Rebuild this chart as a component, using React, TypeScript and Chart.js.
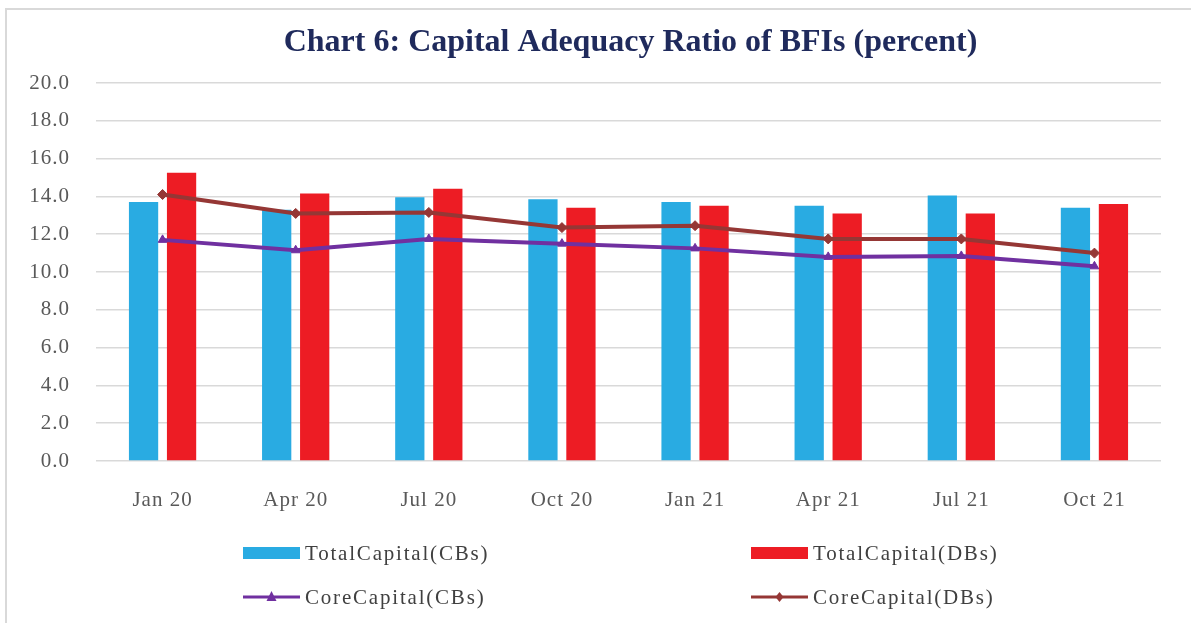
import React, { useEffect, useRef } from "react";
import { Chart, registerables } from "chart.js";

Chart.register(...registerables);

const categories = ["Jan 20", "Apr 20", "Jul 20", "Oct 20", "Jan 21", "Apr 21", "Jul 21", "Oct 21"];
const totalCapitalCBs = [13.7, 13.3, 13.95, 13.85, 13.7, 13.5, 14.05, 13.4];
const totalCapitalDBs = [15.25, 14.15, 14.4, 13.4, 13.5, 13.1, 13.1, 13.6];
const coreCapitalCBs = [11.7, 11.15, 11.75, 11.5, 11.25, 10.8, 10.85, 10.3];
const coreCapitalDBs = [14.1, 13.1, 13.15, 12.35, 12.45, 11.75, 11.75, 11.0];
const yTicks = [0, 2, 4, 6, 8, 10, 12, 14, 16, 18, 20];

const titleText = "Chart 6: Capital Adequacy Ratio of BFIs (percent)";
const legendLabels = ["TotalCapital(CBs)", "TotalCapital(DBs)", "CoreCapital(CBs)", "CoreCapital(DBs)"];

const BLUE = "#29ABE2";
const RED = "#ED1C24";
const PURPLE = "#7030A0";
const DARKRED = "#953735";
const FONT = "'Liberation Serif', 'Times New Roman', serif";

const customPlugin = {
  id: "custom",
  beforeDraw(chart: any) {
    const ctx = chart.ctx;
    ctx.save();
    ctx.fillStyle = "#fff";
    ctx.fillRect(0, 0, chart.width, chart.height);
    ctx.restore();
    (ctx as any).letterSpacing = "1px";
  },
  afterDraw(chart: any) {
    const ctx = chart.ctx;
    const area = chart.chartArea;
    // title
    ctx.save();
    (ctx as any).letterSpacing = "0px";
    ctx.font = `bold 32px ${FONT}`;
    ctx.fillStyle = "#1F2A5C";
    ctx.textAlign = "center";
    ctx.textBaseline = "alphabetic";
    ctx.fillText(titleText, (area.left + area.right) / 2 + 2, 51);
    ctx.restore();

    // legend
    const cols = [243, 751];
    const rows = [553, 597];
    const items = [
      { kind: "bar", color: BLUE },
      { kind: "bar", color: RED },
      { kind: "line", color: PURPLE, marker: "triangle" },
      { kind: "line", color: DARKRED, marker: "diamond" },
    ];
    ctx.save();
    (ctx as any).letterSpacing = "1.8px";
    ctx.font = `21px ${FONT}`;
    ctx.textBaseline = "middle";
    ctx.textAlign = "left";
    items.forEach((it, i) => {
      const x = cols[i % 2];
      const y = rows[Math.floor(i / 2)];
      const w = 57;
      if (it.kind === "bar") {
        ctx.fillStyle = it.color;
        ctx.fillRect(x, y - 6, w, 12);
      } else {
        ctx.strokeStyle = it.color;
        ctx.lineWidth = 3;
        ctx.beginPath();
        ctx.moveTo(x, y);
        ctx.lineTo(x + w, y);
        ctx.stroke();
        ctx.fillStyle = it.color;
        const cx = x + w / 2;
        ctx.beginPath();
        if (it.marker === "triangle") {
          ctx.moveTo(cx, y - 6);
          ctx.lineTo(cx + 5, y + 4);
          ctx.lineTo(cx - 5, y + 4);
        } else {
          ctx.moveTo(cx, y - 5);
          ctx.lineTo(cx + 4, y);
          ctx.lineTo(cx, y + 5);
          ctx.lineTo(cx - 4, y);
        }
        ctx.closePath();
        ctx.fill();
      }
      ctx.fillStyle = "#404040";
      ctx.fillText(legendLabels[i], x + w + 5, y + 1);
    });
    ctx.restore();
  },
};

export default function App() {
  const ref = useRef<HTMLCanvasElement | null>(null);
  useEffect(() => {
    document.body.style.margin = "0";
    const chart = new Chart(ref.current as HTMLCanvasElement, {
      type: "bar",
      data: {
        labels: categories,
        datasets: [
          {
            type: "bar",
            label: legendLabels[0],
            data: totalCapitalCBs,
            backgroundColor: BLUE,
            categoryPercentage: 0.571,
            barPercentage: 0.77,
            order: 2,
          },
          {
            type: "bar",
            label: legendLabels[1],
            data: totalCapitalDBs,
            backgroundColor: RED,
            categoryPercentage: 0.571,
            barPercentage: 0.77,
            order: 3,
          },
          {
            type: "line",
            label: legendLabels[2],
            data: coreCapitalCBs,
            borderColor: PURPLE,
            backgroundColor: PURPLE,
            borderWidth: 4,
            pointStyle: "triangle",
            pointRadius: 5,
            pointBorderWidth: 1,
            tension: 0,
            order: 1,
          } as any,
          {
            type: "line",
            label: legendLabels[3],
            data: coreCapitalDBs,
            borderColor: DARKRED,
            backgroundColor: DARKRED,
            borderWidth: 4,
            pointStyle: "rectRot",
            pointRadius: 5,
            pointBorderWidth: 1,
            tension: 0,
            order: 0,
          } as any,
        ],
      },
      options: {
        animation: false,
        responsive: true,
        maintainAspectRatio: false,
        layout: { padding: { left: 0, right: 30, top: 83, bottom: 62 } },
        plugins: {
          legend: { display: false },
          title: { display: false },
          tooltip: { enabled: false },
        },
        scales: {
          x: {
            grid: { display: false, drawTicks: false },
            border: { display: false },
            ticks: {
              color: "#595959",
              font: { family: FONT, size: 21 },
              padding: 27,
              maxRotation: 0,
            },
            afterFit: (s: any) => {
              s.height = 100;
            },
          },
          y: {
            min: 0,
            max: 20,
            grid: { color: "#D9D9D9", lineWidth: 1.5, drawTicks: false },
            border: { display: false },
            afterBuildTicks: (s: any) => {
              s.ticks = yTicks.map((v) => ({ value: v }));
            },
            afterFit: (s: any) => {
              s.width = 96;
            },
            ticks: {
              color: "#595959",
              font: { family: FONT, size: 21 },
              padding: 26,
              callback: (v: any) => Number(v).toFixed(1),
            },
          },
        },
      },
      plugins: [customPlugin],
    });
    return () => chart.destroy();
  }, []);

  return (
    <div style={{ position: "relative", width: 1191, height: 623, overflow: "hidden", background: "#fff" }}>
      <canvas ref={ref} />
      <div
        style={{
          position: "absolute",
          left: 5,
          top: 8,
          width: 1200,
          height: 700,
          borderLeft: "2px solid #D9D9D9",
          borderTop: "2px solid #D9D9D9",
          pointerEvents: "none",
        }}
      />
    </div>
  );
}
